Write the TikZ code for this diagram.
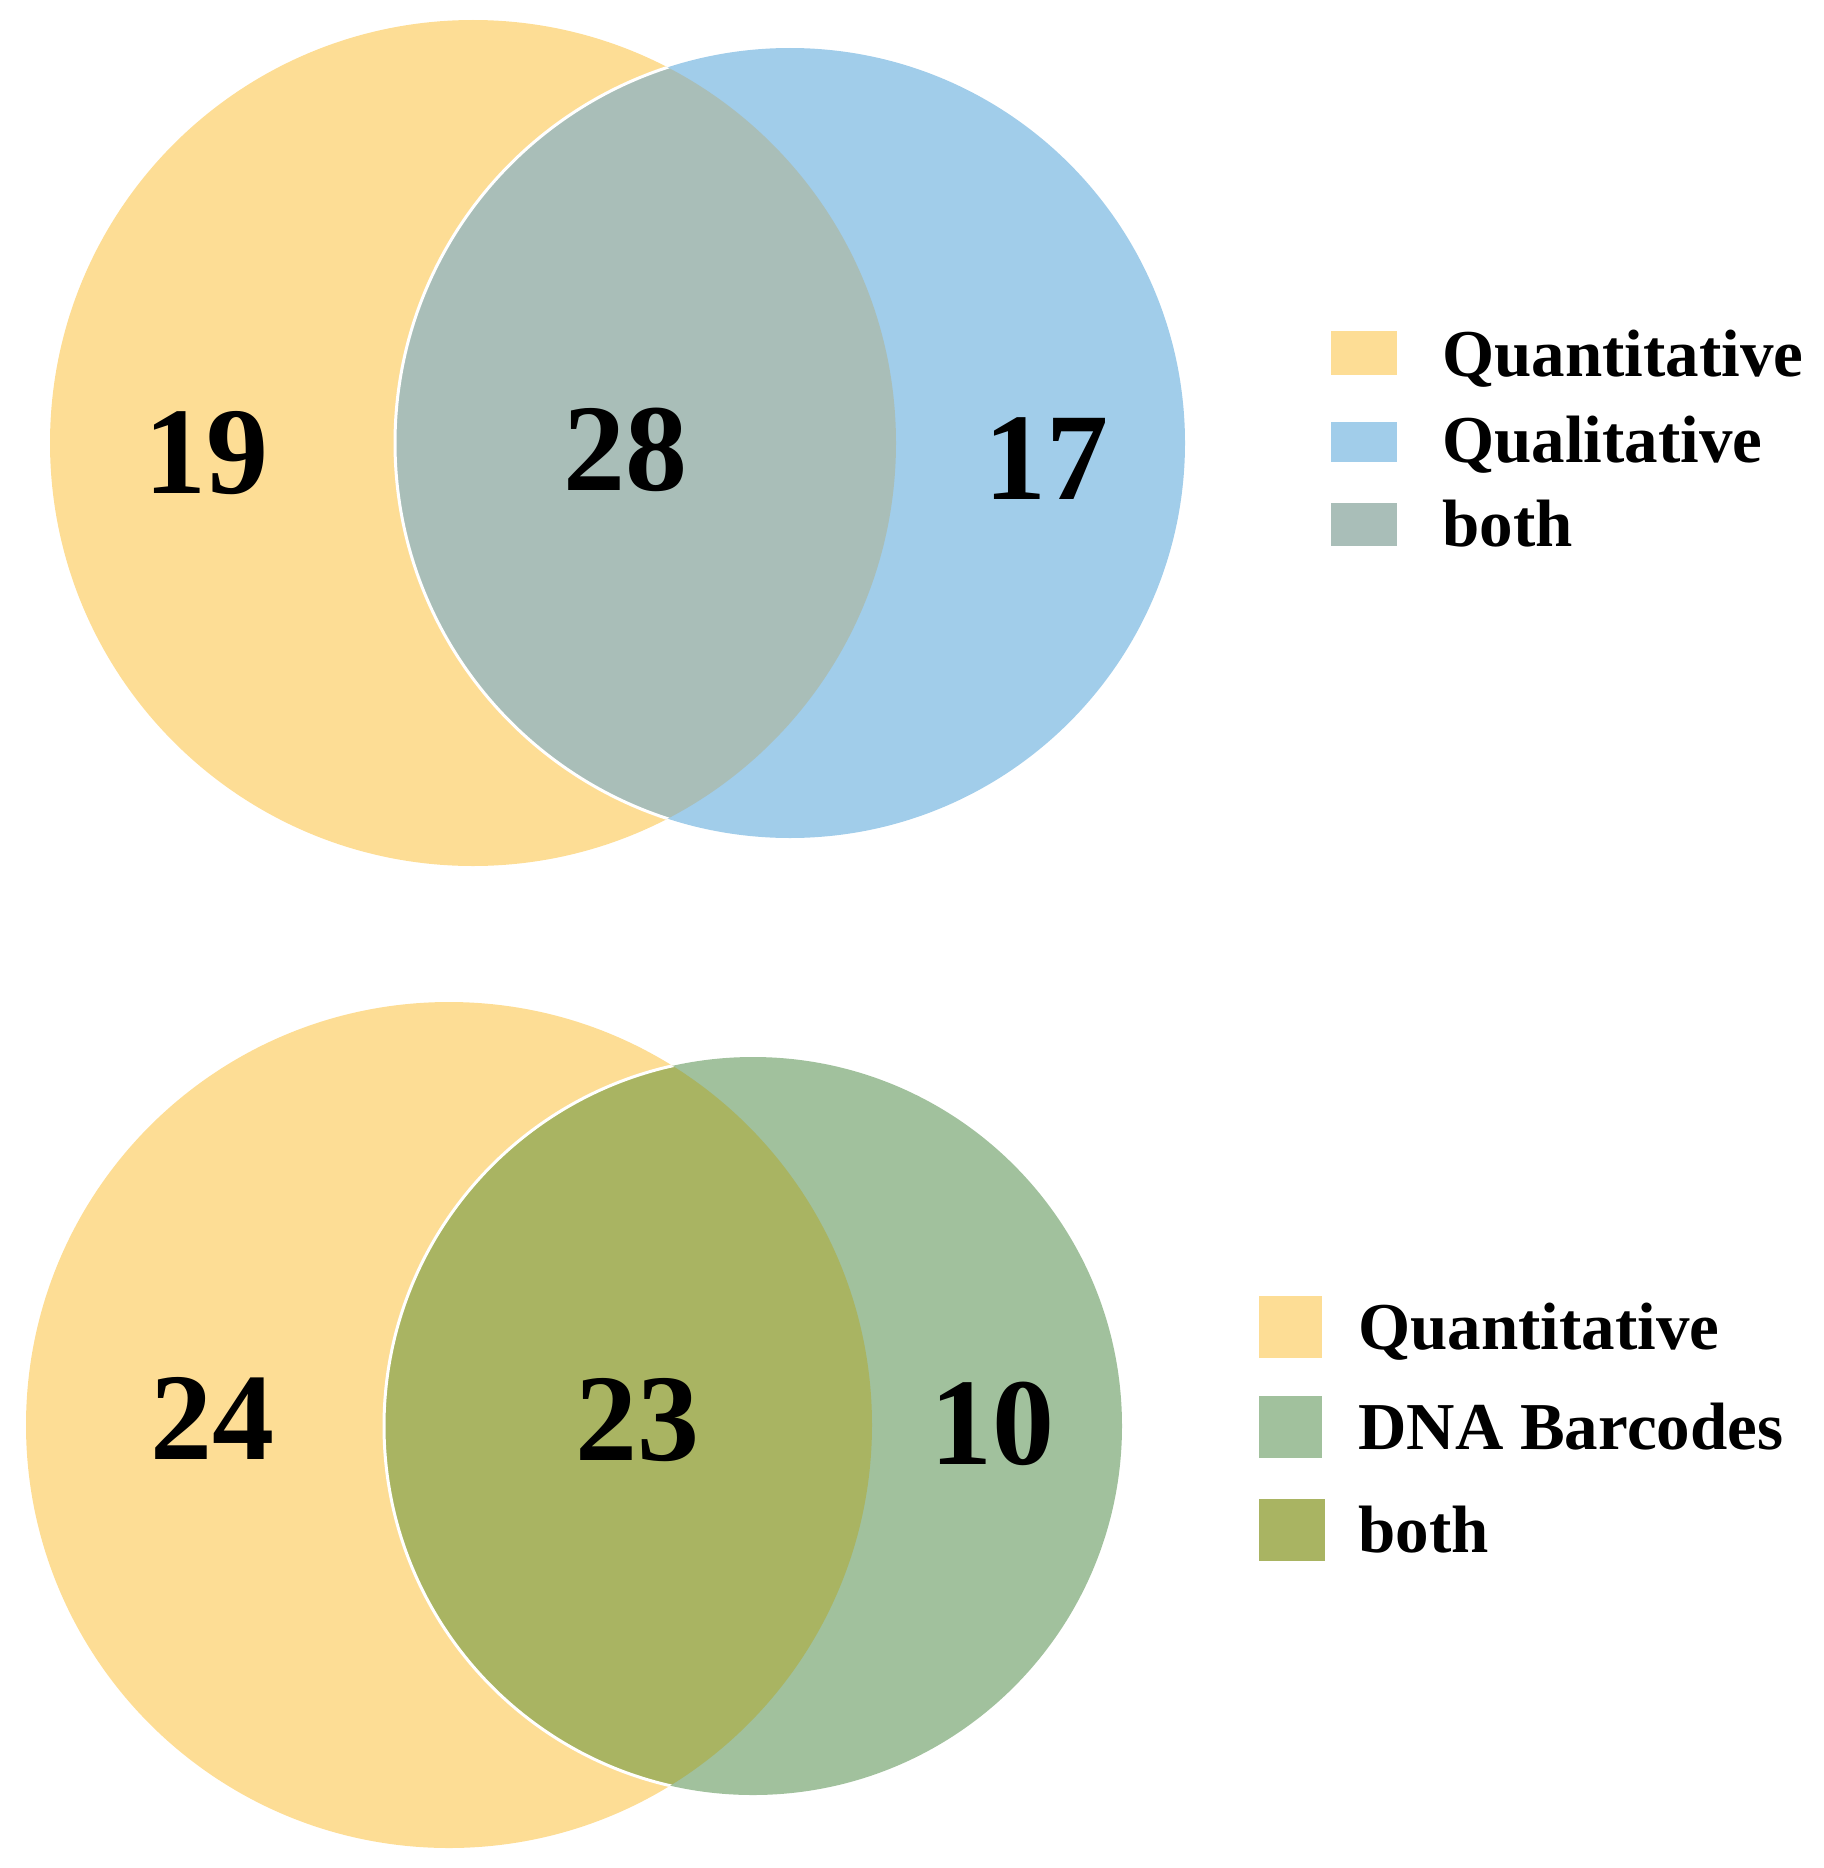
\documentclass[tikz,border=0pt]{standalone}
\usepackage{fontspec}
\setmainfont{Liberation Serif}
\definecolor{qyel}{HTML}{FDDD95}
\definecolor{qblue}{HTML}{A1CDEA}
\definecolor{qgray}{HTML}{A9BEB8}
\definecolor{qgreen}{HTML}{A1C19D}
\definecolor{qolive}{HTML}{A9B462}
\begin{document}
\begin{tikzpicture}[x=0.5pt,y=0.5pt,
  num/.style={font=\fontsize{62}{62}\selectfont\bfseries, inner sep=0pt},
  leg/.style={anchor=base west, font=\fontsize{33.5}{33.5}\selectfont\bfseries, inner sep=0pt},
  sep/.style={draw=white, line width=1.5pt}]
\useasboundingbox (0,0) rectangle (1824,-1868);
% ---------- top Venn ----------
\fill[qyel] (473,-443) circle (423);
\fill[qblue] (790,-443) circle (395);
\begin{scope}
  \clip (473,-443) circle (423);
  \fill[qgray] (790,-443) circle (395);
  \draw[sep] (790,-443) circle (395);
\end{scope}
\node[num] (n19) at (206,-453) {19};
\node[num] (n28) at (625,-450) {28};
\node[num] (n17) at (1046,-459) {17};
% legend top
\fill[qyel] (1331,-331) rectangle (1397,-375);
\fill[qblue] (1331,-422) rectangle (1397,-462);
\fill[qgray] (1331,-503) rectangle (1397,-546);
\node[leg] (l1) at (1442,-376) {Quantitative};
\node[leg] (l2) at (1442,-462) {Qualitative};
\node[leg] (l3) at (1442,-546) {both};
% ---------- bottom Venn ----------
\fill[qyel] (449,-1425) circle (423);
\fill[qgreen] (753,-1426) circle (369);
\begin{scope}
  \clip (449,-1425) circle (423);
  \fill[qolive] (753,-1426) circle (369);
  \draw[sep] (753,-1426) circle (369);
\end{scope}
\node[num] (n24) at (212,-1418) {24};
\node[num] (n23) at (637,-1420) {23};
\node[num] (n10) at (992,-1424) {10};
% legend bottom
\fill[qyel] (1259,-1296) rectangle (1322,-1358);
\fill[qgreen] (1259,-1396) rectangle (1322,-1458);
\fill[qolive] (1259,-1499) rectangle (1325,-1561);
\node[leg] (m1) at (1358,-1349) {Quantitative};
\node[leg] (m2) at (1358,-1449) {DNA Barcodes};
\node[leg] (m3) at (1358,-1552) {both};
\end{tikzpicture}
\end{document}
